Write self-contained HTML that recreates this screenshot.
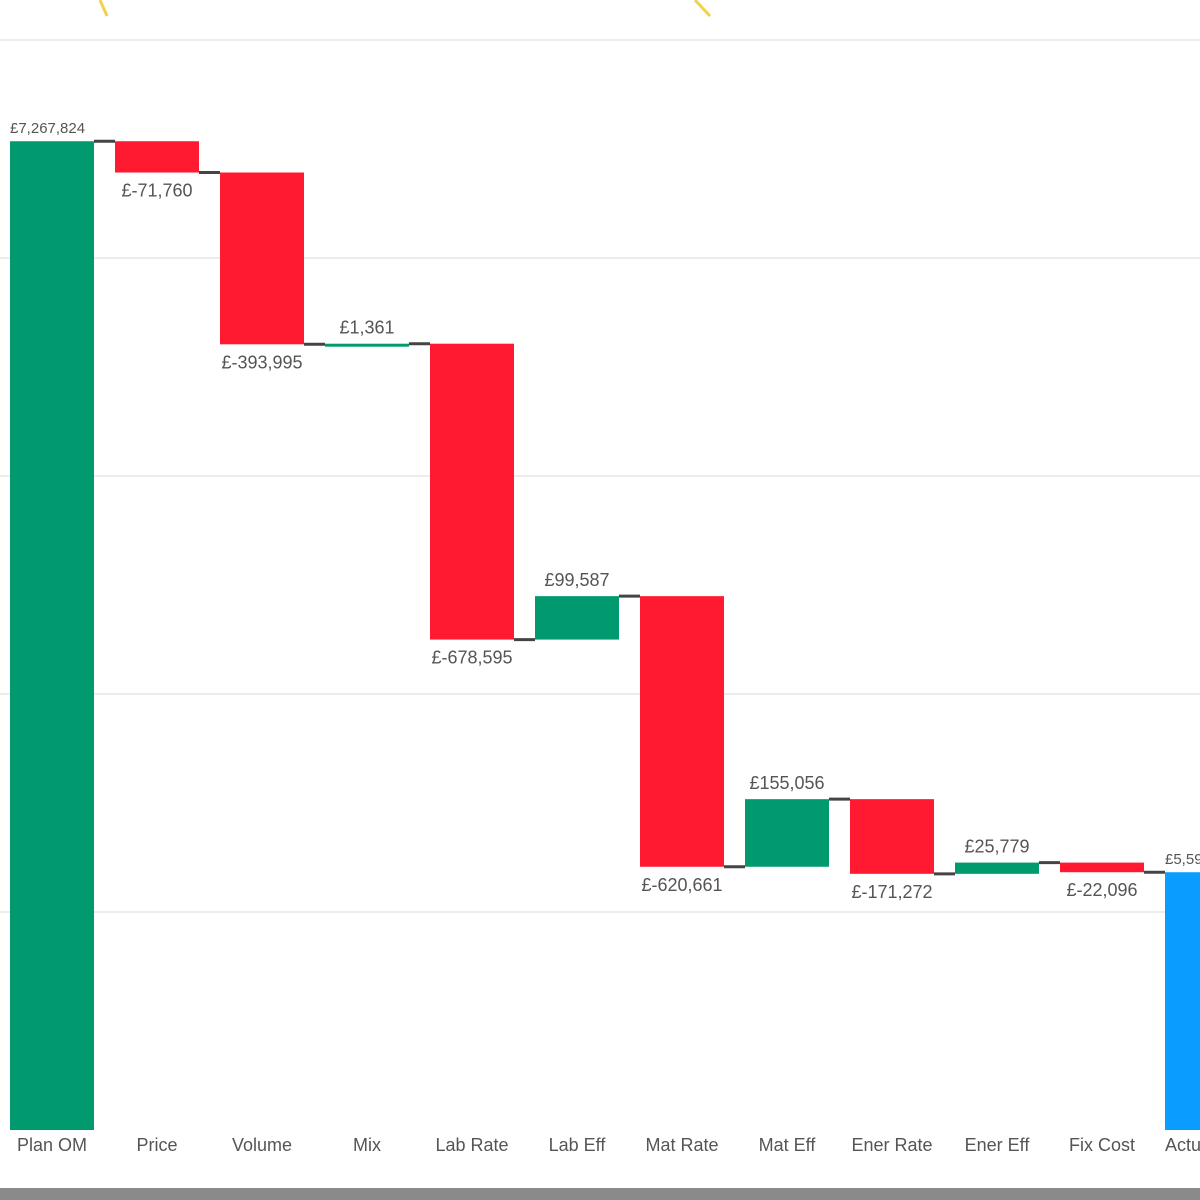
<!DOCTYPE html>
<html><head><meta charset="utf-8"><style>
html,body{margin:0;padding:0;background:#fff;width:1200px;height:1200px;overflow:hidden}
svg{display:block}
text{font-family:"Liberation Sans Narrow","Liberation Sans",sans-serif;fill:#555}
</style></head><body>
<svg id="chart" width="1200" height="1200" viewBox="0 0 1200 1200" xmlns="http://www.w3.org/2000/svg">
<rect x="0" y="0" width="1200" height="1200" fill="#fff"/>
<path d="M100,0 L107,16" stroke="#f2d14b" stroke-width="3" fill="none"/>
<path d="M695,0 L710,16" stroke="#f2d14b" stroke-width="3" fill="none"/>
<g id="grid"></g>
<g id="bars"></g>
<g id="labels"></g>
<rect x="0" y="1188" width="1200" height="12" fill="#8a8a8a"/>
</svg>
<script>
const categories=["Plan OM","Price","Volume","Mix","Lab Rate","Lab Eff","Mat Rate","Mat Eff","Ener Rate","Ener Eff","Fix Cost","Actual OM"];
const deltas=[7267824,-71760,-393995,1361,-678595,99587,-620661,155056,-171272,25779,-22096,null];
const gridTicks=[5500000,6000000,6500000,7000000,7500000];
const yMin=5000000, y0=1130, pxPerUnit=218/500000;
const y=v=>y0-(v-yMin)*pxPerUnit;
const slotX=i=>10+105*i, barW=84;
const NS="http://www.w3.org/2000/svg";
function mk(tag,attrs,parent){const e=document.createElementNS(NS,tag);for(const k in attrs)e.setAttribute(k,attrs[k]);parent.appendChild(e);return e;}
const grid=document.getElementById('grid'),bars=document.getElementById('bars'),labels=document.getElementById('labels');
gridTicks.forEach(t=>{const l=mk('line',{x1:0,x2:1200,y1:y(t),y2:y(t),stroke:'#e6e6e6','stroke-width':1.5},grid);

});
function fmt(v){const s=Math.abs(v).toLocaleString('en-US');return v<0?'£-'+s:'£'+s;}
let run=0;
categories.forEach((c,i)=>{
  const x=slotX(i);
  let top,bot,color,val,isTotal=false;
  if(i===0){top=y(deltas[0]);bot=y0;color='#019a6e';val=deltas[0];run=deltas[0];isTotal=true;}
  else if(deltas[i]===null){top=y(run);bot=y0;color='#0a9dff';val=run;isTotal=true;}
  else{const prev=run;run+=deltas[i];val=deltas[i];top=y(Math.max(prev,run));bot=y(Math.min(prev,run));color=val>=0?'#019a6e':'#ff1a31';}
  const r=mk('rect',{x:x,y:top,width:barW,height:Math.max(bot-top,3),fill:color},bars);
  
  
  if(i<categories.length-1){const ly=y(run);
    const cl=mk('line',{x1:x+barW,x2:x+105,y1:ly,y2:ly,stroke:'#444','stroke-width':3},bars);
    
    }
  const cx=x+barW/2;
  let ty,size=18,anchor='middle',tx=cx;
  if(isTotal){ty=top-8;size=15;if(i===0){anchor='start';tx=x;}else{anchor='start';tx=x;}}
  else if(val>=0){ty=top-10;}else{ty=bot+24;}
  const t=mk('text',{x:tx,y:ty,'text-anchor':anchor,'font-size':size},labels);
  t.textContent=fmt(val);
  
  
  const a=mk('text',{x:i===categories.length-1?x:cx,y:1151,'text-anchor':i===categories.length-1?'start':'middle','font-size':18},labels);
  a.textContent=c;
  
  
});
</script>
</body></html>
